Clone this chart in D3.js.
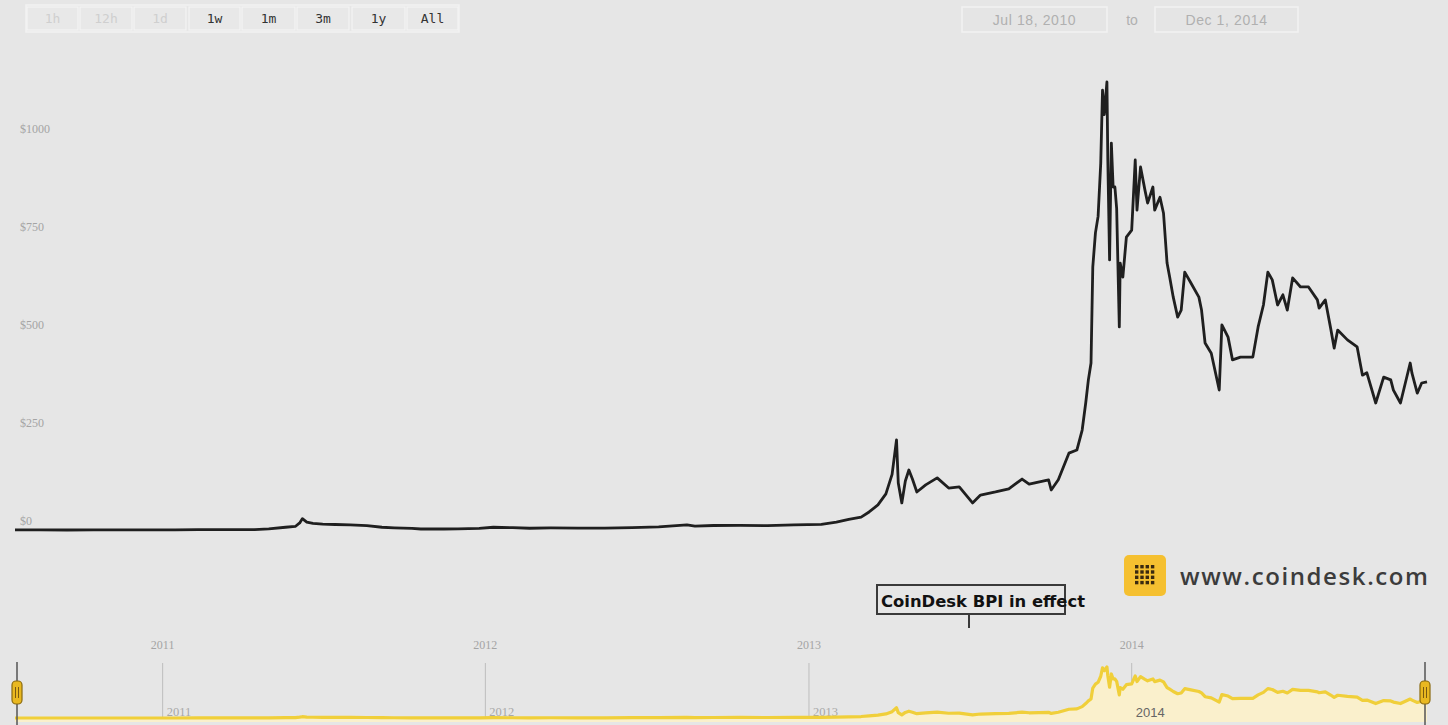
<!DOCTYPE html>
<html>
<head>
<meta charset="utf-8">
<script src="https://cdn.jsdelivr.net/npm/d3@7"></script>
<style>
  html, body { margin: 0; padding: 0; background: #e6e6e6; }
  svg { display: block; }
</style>
</head>
<body>
<svg id="chart" width="1448" height="725"></svg>
<script>
// ---------- DATA ----------
const dates = [
  "2010-07-18","2010-08-15","2010-09-15","2010-10-15","2010-11-08","2010-12-15",
  "2011-01-15","2011-02-10","2011-03-15","2011-04-15","2011-05-01","2011-05-20","2011-05-31",
  "2011-06-05","2011-06-08","2011-06-13","2011-06-20","2011-07-01","2011-07-15","2011-08-01",
  "2011-08-20","2011-09-06","2011-09-20","2011-10-10","2011-10-20","2011-11-15","2011-12-01",
  "2011-12-25","2012-01-10","2012-02-01","2012-02-20","2012-03-15","2012-04-15","2012-05-15",
  "2012-06-15","2012-07-15","2012-08-16","2012-08-25","2012-09-15","2012-10-15","2012-11-15",
  "2012-12-15","2013-01-15","2013-02-01","2013-02-15","2013-03-01","2013-03-10","2013-03-20",
  "2013-03-29","2013-04-05","2013-04-10","2013-04-12","2013-04-16","2013-04-20","2013-04-24",
  "2013-04-28","2013-05-03","2013-05-13","2013-05-26","2013-06-08","2013-06-20","2013-07-05",
  "2013-07-14","2013-07-31","2013-08-15","2013-08-30","2013-09-07","2013-09-29","2013-10-02",
  "2013-10-10","2013-10-22","2013-10-31","2013-11-06","2013-11-10","2013-11-13","2013-11-16",
  "2013-11-18","2013-11-21","2013-11-24","2013-11-27","2013-11-29","2013-12-01","2013-12-04",
  "2013-12-05","2013-12-07","2013-12-09","2013-12-11","2013-12-13","2013-12-15","2013-12-18",
  "2013-12-19","2013-12-22","2013-12-26","2014-01-01","2014-01-05","2014-01-07","2014-01-11",
  "2014-01-16","2014-01-19","2014-01-25","2014-01-27","2014-02-02","2014-02-06","2014-02-10",
  "2014-02-13","2014-02-17","2014-02-22","2014-02-26","2014-03-02","2014-03-09","2014-03-18",
  "2014-03-21","2014-03-25","2014-04-01","2014-04-10","2014-04-13","2014-04-20","2014-04-25",
  "2014-05-04","2014-05-18","2014-05-24","2014-05-30","2014-06-04","2014-06-09","2014-06-15",
  "2014-06-21","2014-06-26","2014-07-02","2014-07-11","2014-07-20","2014-07-30","2014-08-01",
  "2014-08-08","2014-08-14","2014-08-18","2014-08-22","2014-09-02","2014-09-13","2014-09-19",
  "2014-09-24","2014-10-04","2014-10-13","2014-10-21","2014-10-24","2014-11-01","2014-11-12",
  "2014-11-14","2014-11-20","2014-11-25","2014-12-01"
];
const prices = [
  0.09,0.07,0.06,0.1,0.36,0.24,
  0.4,1.0,0.87,1.1,3,7,9,
  18,29,20,17,15,14,13,
  11,7,5.5,4.2,2.5,2.5,3,
  4.2,7,6,4.5,5.2,5,5,
  6.3,8,13,10,11.5,11.8,11,
  13.3,14.5,20,27,33,46,64,
  92,142,230,120,69,125,153,
  130,97,115,133,107,110,69,
  89,97,105,130,117,128,102,
  128,196,204,255,324,383,426,
  671,758,800,936,1122,1060,1143,
  944,689,987,875,875,820,518,
  681,645,747,765,944,816,926,
  867,834,875,816,849,808,681,
  645,594,543,561,658,630,594,
  561,477,451,357,523,492,434,
  441,441,518,574,658,638,574,
  600,561,643,620,620,587,566,
  587,515,464,510,485,467,395,
  401,324,390,383,357,324,426,
  400,349,375,378
];
const yTicks = [0, 250, 500, 750, 1000];
const yTickLabels = ["$0", "$250", "$500", "$750", "$1000"];
const yearTicks = ["2011-01-01", "2012-01-01", "2013-01-01", "2014-01-01"];
const yearLabels = ["2011", "2012", "2013", "2014"];
const rangeButtons = ["1h", "12h", "1d", "1w", "1m", "3m", "1y", "All"];
const buttonEnabled = [false, false, false, true, true, true, true, true];
const dateFrom = "Jul 18, 2010";
const dateTo = "Dec 1, 2014";
const annotationDate = "2013-07-01";
const annotationText = "CoinDesk BPI in effect";

// ---------- SETUP ----------
const parse = d3.timeParse("%Y-%m-%d");
const data = dates.map((d, i) => ({ date: parse(d), value: prices[i] }));
const svg = d3.select("#chart");

const x = d3.scaleTime()
  .domain([parse("2010-07-18"), parse("2014-12-01")])
  .range([15, 1427]);
const y = d3.scaleLinear().domain([0, 1000]).range([530, 138]);
const yNav = d3.scaleLinear().domain([0, 1143]).range([718, 667]);

const serif = "'Liberation Serif', 'DejaVu Serif', serif";
const sans = "'Liberation Sans', Arial, sans-serif";

// ---------- RANGE BUTTONS ----------
const btnBounds = [[27,78],[80,132],[134,186],[189,240],[242,295],[297,349],[352,405],[407,458]];
svg.append("rect").attr("x", 26).attr("y", 5).attr("width", 433).attr("height", 27)
  .attr("fill", "none").attr("stroke", "#f2f2f2").attr("stroke-width", 1.5);
const btn = svg.append("g").selectAll("g").data(rangeButtons).join("g");
btn.append("rect")
  .attr("x", (d, i) => btnBounds[i][0])
  .attr("y", 7)
  .attr("width", (d, i) => btnBounds[i][1] - btnBounds[i][0])
  .attr("height", 23)
  .attr("fill", "#e8e8e8")
  .attr("stroke", "#f3f3f3")
  .attr("stroke-width", 1.2);
btn.append("text")
  .attr("x", (d, i) => (btnBounds[i][0] + btnBounds[i][1]) / 2)
  .attr("y", 23)
  .attr("text-anchor", "middle")
  .attr("font-family", "'DejaVu Sans Mono', monospace")
  .attr("font-size", 13)
  .attr("fill", (d, i) => buttonEnabled[i] ? "#333" : "#cfcfcf")
  .text(d => d);

// ---------- DATE RANGE BOXES ----------
[[962, 1107, dateFrom], [1155, 1298, dateTo]].forEach(([a, b, t]) => {
  svg.append("rect").attr("x", a).attr("y", 7).attr("width", b - a).attr("height", 25)
    .attr("fill", "#e5e5e5").attr("stroke", "#f2f2f2").attr("stroke-width", 1.5);
  svg.append("text").attr("x", (a + b) / 2).attr("y", 25).attr("text-anchor", "middle")
    .attr("font-family", sans).attr("font-size", 14).attr("letter-spacing", 0.6)
    .attr("fill", "#b0b0b0").text(t);
});
svg.append("text").attr("x", 1132).attr("y", 25).attr("text-anchor", "middle")
  .attr("font-family", sans).attr("font-size", 14).attr("fill", "#b0b0b0").text("to");

// ---------- Y AXIS LABELS ----------
svg.append("g").selectAll("text").data(yTicks).join("text")
  .attr("x", 20)
  .attr("y", d => y(d) - 5)
  .attr("font-family", serif)
  .attr("font-size", 12)
  .attr("fill", "#a4a4a4")
  .text((d, i) => yTickLabels[i]);

// ---------- MAIN LINE ----------
const line = d3.line().x(d => x(d.date)).y(d => y(d.value));
svg.append("path").datum(data)
  .attr("d", line)
  .attr("fill", "none")
  .attr("stroke", "#1f1f1f")
  .attr("stroke-width", 2.8)
  .attr("stroke-linejoin", "round");

// ---------- MAIN X LABELS ----------
svg.append("g").selectAll("text").data(yearTicks).join("text")
  .attr("x", d => x(parse(d)))
  .attr("y", 649)
  .attr("text-anchor", "middle")
  .attr("font-family", serif)
  .attr("font-size", 12)
  .attr("fill", "#a4a4a4")
  .text((d, i) => yearLabels[i]);

// ---------- COINDESK LOGO ----------
const logo = svg.append("g");
logo.append("rect").attr("x", 1124).attr("y", 555).attr("width", 42).attr("height", 41)
  .attr("rx", 5).attr("fill", "#f5c030");
for (let r = 0; r < 4; r++) {
  for (let c = 0; c < 4; c++) {
    logo.append("rect").attr("x", 1135 + c * 5.3).attr("y", 565 + r * 5.3)
      .attr("width", 3.4).attr("height", 3.4).attr("fill", "#3a2a10");
  }
}
logo.append("text").attr("x", 1180).attr("y", 585)
  .attr("font-family", "'Open Sans', 'Liberation Sans', sans-serif")
  .attr("font-size", 24)
  .attr("font-weight", 600)
  .attr("textLength", 248)
  .attr("fill", "#3c3c3c").text("www.coindesk.com");

// ---------- ANNOTATION ----------
const ax = x(parse(annotationDate));
svg.append("rect").attr("x", 877).attr("y", 585).attr("width", 188).attr("height", 29)
  .attr("fill", "none").attr("stroke", "#3a3a3a").attr("stroke-width", 2);
svg.append("text").attr("x", 881).attr("y", 607)
  .attr("font-family", "'DejaVu Sans', sans-serif").attr("font-weight", "bold").attr("font-size", 16.4)
  .attr("fill", "#111").text(annotationText);
svg.append("line").attr("x1", ax).attr("x2", ax).attr("y1", 614).attr("y2", 628)
  .attr("stroke", "#3a3a3a").attr("stroke-width", 2);

// ---------- NAVIGATOR ----------
const nav = svg.append("g");
nav.selectAll("line.grid").data(yearTicks).join("line")
  .attr("class", "grid")
  .attr("x1", d => x(parse(d))).attr("x2", d => x(parse(d)))
  .attr("y1", 663).attr("y2", 722)
  .attr("stroke", "#bdbdbd").attr("stroke-width", 1);
const navArea = d3.area().x(d => x(d.date)).y0(722).y1(d => yNav(d.value));
nav.append("path").datum(data).attr("d", navArea).attr("fill", "#faf0cc");
nav.selectAll("text").data(yearTicks).join("text")
  .attr("x", d => x(parse(d)) + 4)
  .attr("y", (d, i) => i === 3 ? 717 : 716)
  .attr("font-family", (d, i) => i === 3 ? sans : serif)
  .attr("font-size", (d, i) => i === 3 ? 13 : 12.5)
  .attr("fill", (d, i) => i === 3 ? "#666" : "#a8a8a8")
  .text((d, i) => yearLabels[i]);
const navLine = d3.line().x(d => x(d.date)).y(d => yNav(d.value));
nav.append("path").datum(data).attr("d", navLine)
  .attr("fill", "none").attr("stroke", "#f0cf3a").attr("stroke-width", 3.2)
  .attr("stroke-linejoin", "round");

// handles
[x.range()[0] + 2, x.range()[1] - 2].forEach(hx => {
  nav.append("line").attr("x1", hx).attr("x2", hx).attr("y1", 662).attr("y2", 725)
    .attr("stroke", "#555").attr("stroke-width", 1.5);
  nav.append("rect").attr("x", hx - 5).attr("y", 681).attr("width", 10).attr("height", 23)
    .attr("rx", 4).attr("fill", "#e9b820").attr("stroke", "#8a6a10").attr("stroke-width", 1.2);
  nav.append("line").attr("x1", hx - 1.5).attr("x2", hx - 1.5).attr("y1", 687).attr("y2", 698)
    .attr("stroke", "#7a5a10").attr("stroke-width", 1);
  nav.append("line").attr("x1", hx + 1.5).attr("x2", hx + 1.5).attr("y1", 687).attr("y2", 698)
    .attr("stroke", "#7a5a10").attr("stroke-width", 1);
});
</script>
</body>
</html>
